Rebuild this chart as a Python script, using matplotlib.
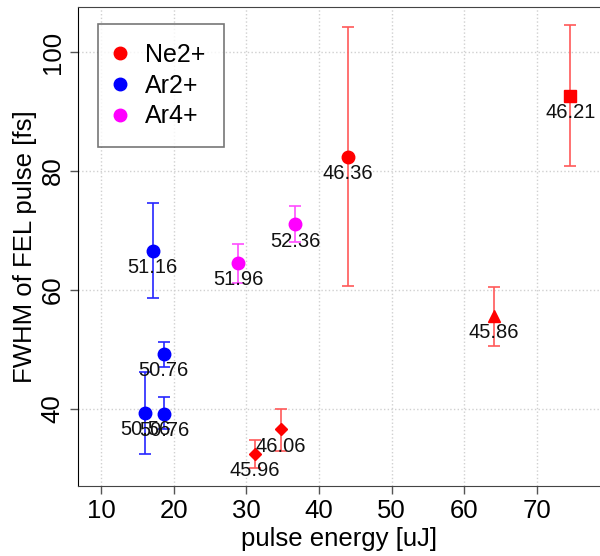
import matplotlib
matplotlib.use("Agg")
import matplotlib.pyplot as plt
from matplotlib.lines import Line2D

plt.rcParams['font.family'] = ['Liberation Sans', 'DejaVu Sans']

# Ne2+ measurements
ne_energy = [44.0, 74.6, 64.1, 31.2, 34.7]
ne_fwhm = [82.4, 92.6, 55.6, 32.4, 36.5]
ne_err_lo = [21.8, 11.8, 5.0, 2.3, 3.6]
ne_err_hi = [21.8, 12.0, 4.9, 2.4, 3.5]
ne_markers = ['o', 's', '^', 'D', 'D']
ne_sizes = [9, 9, 9, 6, 6]
ne_labels = ['46.36', '46.21', '45.86', '45.96', '46.06']

# Ar2+ measurements
ar2_energy = [17.1, 18.6, 16.06, 18.7]
ar2_fwhm = [66.6, 49.2, 39.3, 39.1]
ar2_err_lo = [7.9, 2.1, 6.9, 2.6]
ar2_err_hi = [8.0, 2.1, 6.9, 2.8]
ar2_labels = ['51.16', '50.76', '50.56', '50.76']

# Ar4+ measurements
ar4_energy = [28.9, 36.7]
ar4_fwhm = [64.6, 71.0]
ar4_err_lo = [3.4, 3.0]
ar4_err_hi = [3.2, 3.1]
ar4_labels = ['51.96', '52.36']

fig = plt.figure(figsize=(6.0, 5.56), dpi=100)
ax = fig.add_axes([0.13, 0.126, 0.87, 0.8614])

def draw(xs, ys, lo, hi, markers, sizes, labels, color, ecolor):
    for x, y, l, h, m, s, t in zip(xs, ys, lo, hi, markers, sizes, labels):
        ax.errorbar([x], [y], yerr=[[l], [h]], fmt='none', ecolor=ecolor,
                    elinewidth=1.2, capsize=4, capthick=1.2, zorder=2)
        ax.plot([x], [y], marker=m, ms=s, color=color, ls='none', zorder=3)
        ax.annotate(t, (x, y), xytext=(0, -12), textcoords='offset points',
                    ha='center', va='center', fontsize=14.5, color='#111111',
                    zorder=4)

draw(ne_energy, ne_fwhm, ne_err_lo, ne_err_hi, ne_markers, ne_sizes,
     ne_labels, 'red', (1.0, 0.35, 0.35))
draw(ar2_energy, ar2_fwhm, ar2_err_lo, ar2_err_hi, ['o'] * 4, [9] * 4,
     ar2_labels, 'blue', (0.15, 0.15, 1.0))
draw(ar4_energy, ar4_fwhm, ar4_err_lo, ar4_err_hi, ['o'] * 2, [9] * 2,
     ar4_labels, 'magenta', (1.0, 0.3, 1.0))

ax.set_xlim(6.8, 78.7)
ax.set_ylim(27.0, 107.6)
ax.set_xticks([10, 20, 30, 40, 50, 60, 70])
ax.set_yticks([40, 60, 80, 100])
ax.grid(True, ls=':', color='#d0d0d0', lw=1)
ax.set_axisbelow(True)

ax.tick_params(axis='both', direction='out', length=6, width=1,
               color='#555555', labelsize=18.5)
for lab in ax.get_yticklabels():
    lab.set_rotation(90)
    lab.set_va('center')

ax.spines['right'].set_visible(False)
ax.spines['left'].set_color('black')
ax.spines['bottom'].set_color('#444444')
ax.spines['top'].set_color('#444444')

ax.set_xlabel('pulse energy [uJ]', fontsize=18.5, labelpad=3)
ax.set_ylabel('FWHM of FEL pulse [fs]', fontsize=18.5, labelpad=3)

handles = [Line2D([], [], marker='o', ls='none', color=c, ms=9)
           for c in ['red', 'blue', 'magenta']]
leg = ax.legend(handles, ['Ne2+', 'Ar2+', 'Ar4+'], loc='upper left',
                bbox_to_anchor=(0.0383, 0.9645), borderaxespad=0,
                fontsize=18, frameon=True, fancybox=False,
                edgecolor='#555555', handletextpad=0.84, borderpad=0.75,
                labelspacing=0.27, handlelength=0.3)
leg.get_frame().set_linewidth(1.2)

fig.savefig('out.png', dpi=100)
